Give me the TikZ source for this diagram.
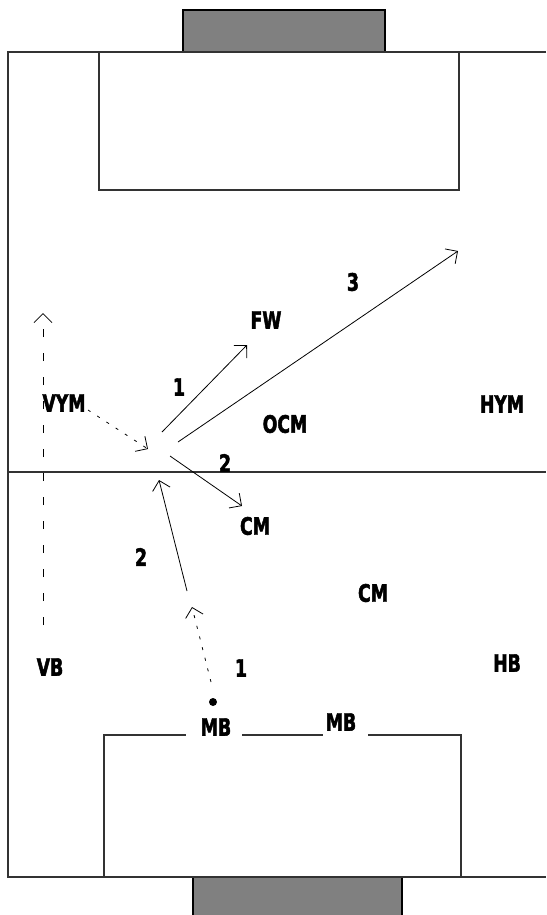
\documentclass[tikz,border=0pt]{standalone}
\usepackage{fontspec}
\newfontfamily\labelfont[FakeStretch=0.8, FakeBold=2]{DejaVu Sans Condensed}
\usetikzlibrary{arrows.meta,positioning}
\definecolor{pitchline}{HTML}{333333}
\definecolor{goalgrey}{HTML}{808080}

\begin{document}
\begin{tikzpicture}[
    x=1pt, y=-1pt,
    every node/.style={font=\labelfont\bfseries\fontsize{24}{24}\selectfont, inner sep=0pt},
    line/.style={line width=1.3pt, pitchline},
    goal/.style={fill=goalgrey, draw=black, line width=1.5pt},
    pass/.style={line width=0.8pt, -{Straight Barb[length=9pt, width=18pt]}},
    run/.style={pass, dash pattern=on 3pt off 8pt},
    overlap/.style={pass, dash pattern=on 8pt off 16pt},
]
\useasboundingbox (0,0) rectangle (546,915);

% Goals
\draw[goal] (183,10) rectangle (385,52);
\draw[goal] (193,877) rectangle (402,918);

% Pitch lines
\draw[line] (546,52) -- (8,52) -- (8,877) -- (546,877);
\draw[line] (8,472) -- (546,472);
\draw[line] (99,52) rectangle (459,190);
\draw[line] (104,877) -- (104,735) -- (186,735);
\draw[line] (242,735) -- (323,735);
\draw[line] (368,735) -- (461,735) -- (461,877);

% Players
\node (fw)  at (266,320) {FW};
\node (vym) at (64,403)  {VYM};
\node (ocm) at (285,424) {OCM};
\node (hym) at (502,404) {HYM};
\node (cma) at (255,526) {CM};
\node (cmb) at (373,593) {CM};
\node (vb)  at (50,667)  {VB};
\node (hb)  at (507,663) {HB};
\node (mba) at (216,727) {MB};
\node (mbb) at (341,722) {MB};

% Ball
\fill (213,702) circle[radius=4pt];

% Phase numbers
\node (nra) at (179,387) {1};
\node (nrb) at (353,282) {3};
\node (nrc) at (225,463) {2};
\node (nrd) at (141,557) {2};
\node (nre) at (241,668) {1};

% End points of passes and runs
\coordinate (passa) at (162,432);
\coordinate (passb) at (178,442);
\coordinate (passc) at (170,456);
\coordinate (toFW)  at (247,345);
\coordinate (deep)  at (458,251);
\coordinate (toCM)  at (242,506);
\coordinate (runa)  at (211,682);
\coordinate (runb)  at (192,607);
\coordinate (runc)  at (187,591);
\coordinate (rund)  at (159,480);
\coordinate (vyma)  at (88,410);
\coordinate (vymb)  at (148,449);
\coordinate (vba)   at (43,625);
\coordinate (vbb)   at (43,313);

% Passes
\draw[pass] (passa) -- (toFW);
\draw[pass] (passb) -- (deep);
\draw[pass] (passc) -- (toCM);
\draw[pass] (runc) -- (rund);

% Runs
\draw[run] (runa) -- (runb);
\draw[run] (vyma) -- (vymb);
\draw[overlap] (vba) -- (vbb);

\end{tikzpicture}
\end{document}
